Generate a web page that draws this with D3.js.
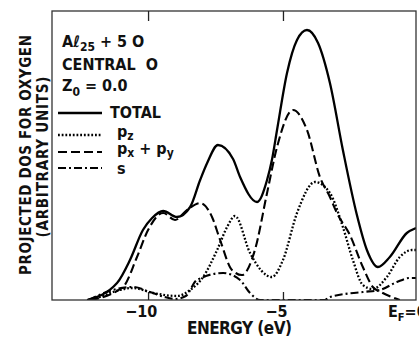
<!DOCTYPE html>
<html>
<head>
<meta charset="utf-8">
<script src="https://cdn.jsdelivr.net/npm/d3@7"></script>
<style>
  html, body { margin: 0; padding: 0; background: #fff; }
  svg { display: block; }
  text { font-family: "DejaVu Sans Condensed", "DejaVu Sans", sans-serif; fill: #111; font-weight: bold; }
</style>
</head>
<body>
<svg id="chart" width="419" height="337"></svg>
<script>
// ---- data (energy in eV, projected DOS in arbitrary units) ----
const energyTicks = [-10, -5];
const tickLabels = ["\u221210", "\u22125"];

const total = [[-12.26,0],[-11.15,17],[-10.67,40],[-10.19,70],[-9.85,82],[-9.44,89],[-8.93,83],
  [-8.44,93],[-8.07,120],[-7.81,137],[-7.41,155],[-6.85,141],[-6.59,123],[-5.96,98],[-5.59,120],
  [-5.41,140],[-5.22,170],[-4.85,227],[-4.48,260],[-4.11,270],[-3.70,257],[-3.26,217],[-2.78,150],
  [-2.26,85],[-1.89,50],[-1.48,33],[-1.04,43],[-0.41,67],[-0.07,72]];

const pz = [[-12.22,0],[-11.78,3],[-11.30,8],[-10.56,12],[-9.81,7],[-8.93,4],[-8.44,10],[-7.96,23],
  [-7.44,50],[-7.07,73],[-6.78,84],[-6.22,47],[-5.41,23],[-5.0,40],[-4.48,87],[-3.81,118],
  [-3.26,107],[-2.78,73],[-2.41,40],[-2.04,15],[-1.67,11],[-1.15,23],[-0.67,43],[-0.22,50],[-0.07,50]];

const pxpy = [[-12.15,0],[-10.93,13],[-10.41,43],[-10.0,70],[-9.44,87],[-9.0,80],[-8.56,90],[-8.07,97],
  [-7.63,83],[-7.33,60],[-6.89,30],[-6.52,25],[-6.04,50],[-5.59,107],[-5.22,153],[-4.63,190],
  [-4.11,170],[-3.63,123],[-3.26,103],[-3.0,87],[-2.52,65],[-2.04,33],[-1.67,13],[-1.30,7],[-0.67,0]];

const sOrb = [[-12.2,0],[-11.3,10],[-10.56,13],[-9.93,8],[-9.4,3],[-9.0,1],[-8.6,4],[-8.19,20],
  [-7.22,27],[-6.59,20],[-6.22,7],[-5.85,0],[-3.45,0],[-3.26,3],[-2.04,8],[-1.41,10],[-0.78,18],
  [-0.30,22],[-0.07,22]];

const series = [
  { name: "TOTAL", data: total, dash: null, width: 2.3 },
  { name: "pz", data: pz, dash: "1.8,1.9", width: 2.3 },
  { name: "pxpy", data: pxpy, dash: "9,4", width: 2.1 },
  { name: "s", data: sOrb, dash: "8,3,2,3", width: 2.1 }
];

// ---- layout ----
const svg = d3.select("#chart");
const L = 52, R = 416, T = 11, B = 300;
const x = d3.scaleLinear().domain([-13.56, -0.07]).range([L, R]);
const y = d3.scaleLinear().domain([0, 289]).range([B, T]);

svg.append("defs").append("clipPath").attr("id", "clip")
  .append("rect").attr("x", L).attr("y", T - 2).attr("width", R - L).attr("height", B - T + 2);

const line = d3.line().x(d => x(d[0])).y(d => y(d[1])).curve(d3.curveMonotoneX);

const plot = svg.append("g").attr("clip-path", "url(#clip)");
series.forEach(s => {
  plot.append("path").datum(s.data)
    .attr("d", line)
    .attr("fill", "none")
    .attr("stroke", "#000")
    .attr("stroke-width", s.width)
    .attr("stroke-linecap", "butt")
    .attr("stroke-linejoin", "round")
    .attr("stroke-dasharray", s.dash);
});

// frame
svg.append("rect").attr("x", L).attr("y", T).attr("width", R - L).attr("height", B - T)
  .attr("fill", "none").attr("stroke", "#333").attr("stroke-width", 1.3);

// inward ticks
const topAxis = svg.append("g").attr("transform", `translate(0,${T})`)
  .call(d3.axisBottom(x).tickValues(energyTicks).tickSize(10).tickFormat(""));
const botAxis = svg.append("g").attr("transform", `translate(0,${B})`)
  .call(d3.axisTop(x).tickValues(energyTicks).tickSize(8).tickFormat(""));
[topAxis, botAxis].forEach(g => {
  g.select(".domain").remove();
  g.selectAll(".tick line").attr("stroke", "#222").attr("stroke-width", 1.3);
});

// tick labels (digits centred on tick, minus hanging left)
energyTicks.forEach((v, i) => {
  const digits = tickLabels[i].length - 1;
  svg.append("text").attr("x", x(v) + digits * 4.6).attr("y", 317)
    .attr("text-anchor", "end").attr("font-size", 16).text(tickLabels[i]);
});
const ef = svg.append("text").attr("x", 388).attr("y", 317).attr("font-size", 16);
ef.append("tspan").text("E");
ef.append("tspan").attr("dy", 4).attr("font-size", 11).text("F");
ef.append("tspan").attr("dy", -4).text("=0");

// axis titles
svg.append("text").attr("x", 187).attr("y", 334).attr("font-size", 17)
  .attr("textLength", 105).attr("lengthAdjust", "spacing").text("ENERGY (eV)");

svg.append("text").attr("transform", "translate(30.5,155) rotate(-90)")
  .attr("text-anchor", "middle").attr("font-size", 15)
  .attr("textLength", 240).attr("lengthAdjust", "spacing").text("PROJECTED DOS FOR OXYGEN");
svg.append("text").attr("transform", "translate(48,157) rotate(-90)")
  .attr("text-anchor", "middle").attr("font-size", 15)
  .attr("textLength", 161).attr("lengthAdjust", "spacing").text("(ARBITRARY UNITS)");

// annotation block
const ann = svg.append("g");
const t1 = ann.append("text").attr("x", 62).attr("y", 47).attr("font-size", 16);
t1.append("tspan").text("A\u2113");
t1.append("tspan").attr("dy", 4).attr("font-size", 12).text("25");
t1.append("tspan").attr("dy", -4).text(" + 5 O");
ann.append("text").attr("x", 62).attr("y", 70).attr("font-size", 16).text("CENTRAL\u00A0 O");
const t3 = ann.append("text").attr("x", 62).attr("y", 91).attr("font-size", 16);
t3.append("tspan").text("Z");
t3.append("tspan").attr("dy", 5).attr("font-size", 12).text("0");
t3.append("tspan").attr("dy", -5).text(" = 0.0");

// legend
const legendRows = [
  { y: 113, ty: 118, dash: null, w: 2.3, label: ["TOTAL"] },
  { y: 135, ty: 137, dash: "1.8,1.9", w: 2.3, label: ["p", "z"] },
  { y: 152, ty: 154, dash: "9,4", w: 2.1, label: ["p", "x", " + p", "y"] },
  { y: 168, ty: 174, dash: "8,3,2,3", w: 2.1, label: ["s"] }
];
legendRows.forEach(r => {
  svg.append("line").attr("x1", 58).attr("x2", 102).attr("y1", r.y).attr("y2", r.y)
    .attr("stroke", "#000").attr("stroke-width", r.w).attr("stroke-dasharray", r.dash);
  const t = ann.append("text").attr("x", r.label[0] === "TOTAL" ? 110 : 117)
    .attr("y", r.ty).attr("font-size", 16);
  r.label.forEach((s, i) => {
    const sub = (r.label.length > 1) && (i % 2 === 1);
    t.append("tspan").attr("dy", sub ? 3 : (i > 0 ? -3 : 0))
      .attr("font-size", sub ? 12 : 16).text(s);
  });
});
</script>
</body>
</html>
